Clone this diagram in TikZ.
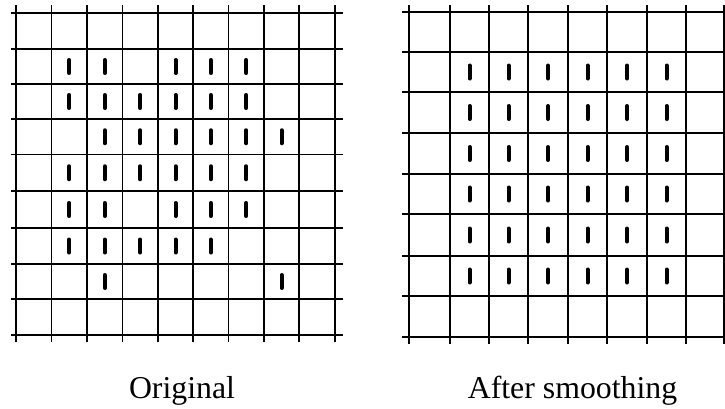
\documentclass[tikz,border=0pt]{standalone}
\usepackage{fontspec}
\setmainfont{Liberation Serif}
\begin{document}
\begin{tikzpicture}[x=1pt,y=-1pt,
  gridline/.style={line width=1.8pt,black},
  tally/.style={line width=4pt,line cap=round,black},
  caption/.style={font=\fontsize{31.8}{36}\selectfont,anchor=base,inner sep=0pt}]
\useasboundingbox (0,0) rectangle (725,408);
% ---------- left grid (Original) ----------
\foreach \x in {16,51.5,87,122.5,158,193,228.5,264,299,335}
  \draw[gridline] (\x,5) -- (\x,342);
\foreach \y in {13,49,84,119,154.5,191,228,264,299,335}
  \draw[gridline] (11,\y) -- (343,\y);
% column / row centres
\def\lc{{33.75,69.25,104.75,140.25,175.5,210.75,246.25,281.5,317}}
\def\lr{{31,66.5,101.5,136.75,172.75,209.5,246,281.5,317}}
\foreach \r/\c in {1/1,1/2,1/4,1/5,1/6,
                   2/1,2/2,2/3,2/4,2/5,2/6,
                   3/2,3/3,3/4,3/5,3/6,3/7,
                   4/1,4/2,4/3,4/4,4/5,4/6,
                   5/1,5/2,5/4,5/5,5/6,
                   6/1,6/2,6/3,6/4,6/5,
                   7/2,7/7}{
  \pgfmathsetmacro{\mx}{\lc[\c]}
  \pgfmathsetmacro{\my}{\lr[\r]}
  \draw[tally] (\mx,\my-6.5) -- (\mx,\my+6.5);
}
% ---------- right grid (After smoothing) ----------
\foreach \x in {409,450,489,528,568,607,647,686,724}
  \draw[gridline] (\x,5) -- (\x,344);
\foreach \y in {12,52,92,133,174,214,256,296,337}
  \draw[gridline] (402,\y) -- (725,\y);
\def\rc{{429.5,469.5,508.5,548,587.5,627,666.5,705}}
\def\rr{{32,72,112.5,153.5,194,235,276,316.5}}
\foreach \r in {1,...,6}{
  \foreach \c in {1,...,6}{
    \pgfmathsetmacro{\mx}{\rc[\c]}
    \pgfmathsetmacro{\my}{\rr[\r]}
    \draw[tally] (\mx,\my-6.5) -- (\mx,\my+6.5);
  }
}
% ---------- captions ----------
\node[caption] (orig) at (182,398) {Original};
\node[caption] (smooth) at (572.5,398) {After smoothing};
\end{tikzpicture}
\end{document}
